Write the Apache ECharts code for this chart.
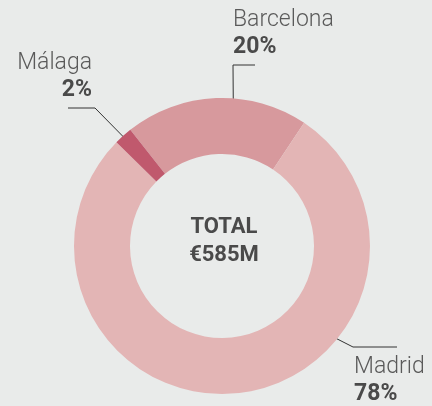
<!DOCTYPE html>
<html>
<head>
<meta charset="utf-8">
<script src="https://cdn.jsdelivr.net/npm/echarts@6/dist/echarts.min.js"></script>
<style>
  html, body { margin: 0; padding: 0; background: #e9ebea; }
  #chart { width: 432px; height: 406px; }
</style>
</head>
<body>
<div id="chart"></div>
<script>
// data
var cities = ['Barcelona', 'Madrid', 'Málaga'];
var shares = [20, 78, 2];
var totalLabel = '€585M';

var colors = ['#d7999d', '#e3b5b5', '#c0596d'];
var cx = 222, cy = 246;

// where each leader line starts on the ring (clockwise deg from top, radius)
// then elbow, end and label anchor
var labelPos = [
  { start: [4.9, 133], pts: [[233, 65], [255, 65]], x: 233, y: 34, align: 'left' },
  { start: [130.8, 128], pts: [[353, 347], [397, 347]], x: 354, y: 381, align: 'left' },
  { start: [318.2, 131], pts: [[95, 108], [68, 108]], x: 92, y: 77, align: 'right' }
];

function polar(deg, r) {
  var a = deg * Math.PI / 180;
  return [cx + r * Math.sin(a), cy - r * Math.cos(a)];
}

var myChart = echarts.init(document.getElementById('chart'));

var option = {
  backgroundColor: '#e9ebea',
  animation: false,
  graphic: [{
    type: 'text',
    x: 224,
    y: 241,
    style: {
      text: 'TOTAL\n' + totalLabel,
      align: 'center',
      verticalAlign: 'middle',
      font: 'bold 22px Roboto',
      lineHeight: 28,
      fill: '#4a4a4a'
    }
  }],
  series: [{
    type: 'pie',
    center: [cx, cy],
    radius: [92, 148],
    startAngle: 128.3,
    clockwise: true,
    avoidLabelOverlap: false,
    emphasis: { disabled: true },
    data: cities.map(function (c, i) {
      return { name: c, value: shares[i], itemStyle: { color: colors[i] } };
    }),
    label: {
      show: true,
      position: 'outside',
      formatter: function (p) {
        return '{n|' + p.name + '}\n{p|' + shares[p.dataIndex] + '%}';
      },
      rich: {
        n: { fontFamily: 'Roboto', fontWeight: 300, fontSize: 23, lineHeight: 27, color: '#5a5a5a' },
        p: { fontFamily: 'Roboto', fontWeight: 'bold', fontSize: 23, lineHeight: 27, color: '#4a4a4a' }
      }
    },
    labelLine: {
      show: true,
      lineStyle: { color: '#333', width: 1 }
    },
    labelLayout: function (params) {
      var lp = labelPos[params.dataIndex];
      return {
        x: lp.x,
        y: lp.y,
        align: lp.align,
        verticalAlign: 'middle',
        labelLinePoints: [polar(lp.start[0], lp.start[1])].concat(lp.pts)
      };
    }
  }]
};

myChart.setOption(option);
</script>
</body>
</html>
